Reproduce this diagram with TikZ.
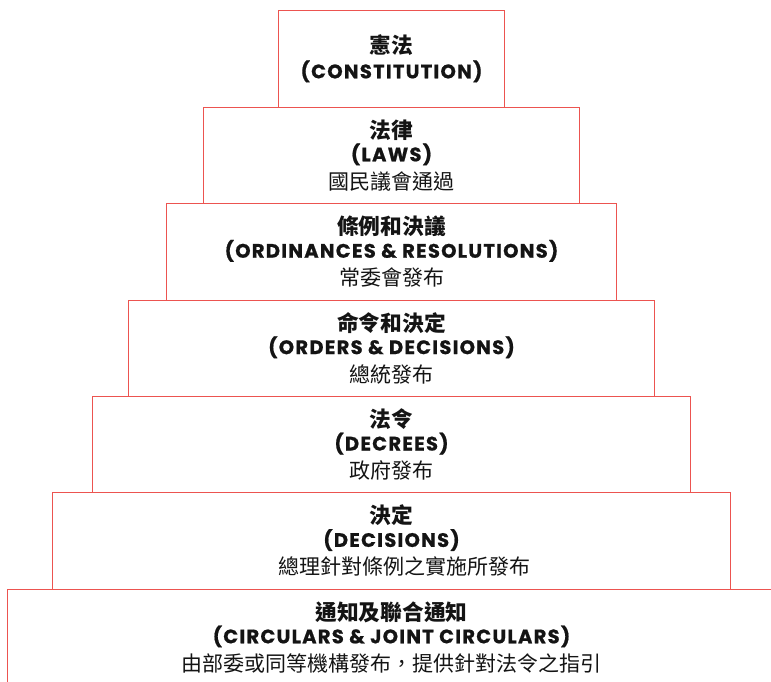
\documentclass[tikz,border=0pt]{standalone}
\usepackage{fontspec}
\setmainfont{Poppins}[LetterSpace=6.5, BoldFeatures={FakeBold=0.8}]
\newfontfamily\cjk{Noto Sans CJK TC}
\definecolor{boxred}{RGB}{236,84,80}
\definecolor{txt}{RGB}{20,20,20}
\tikzset{
  tier/.style={draw=boxred, line width=1pt, fill=white, inner sep=0pt, minimum height=96.4pt, anchor=north},
  cjktitle/.style={inner sep=0pt, anchor=base, text=txt, font=\cjk\bfseries\fontsize{21.7}{21.7}\selectfont},
  entitle/.style={inner sep=0pt, anchor=base, text=txt, font=\bfseries\fontsize{19.5}{19.5}\selectfont},
  subtitle/.style={inner sep=0pt, anchor=base, text=txt, font=\cjk\fontsize{21}{21}\selectfont}
}
\begin{document}
\begin{tikzpicture}[x=1pt,y=-1pt]
\useasboundingbox (0,0) rectangle (771,682);
\node[tier, minimum width=226.4pt] (b1) at (391.5,10.3) {};
\node[tier, minimum width=375.3pt] (b2) at (391.5,106.7) {};
\node[tier, minimum width=449.7pt] (b3) at (391.5,203.1) {};
\node[tier, minimum width=525.6pt] (b4) at (391.5,299.5) {};
\node[tier, minimum width=597.3pt] (b5) at (391.5,395.9) {};
\node[tier, minimum width=677.3pt] (b6) at (391.5,492.3) {};
\node[tier, minimum width=767.6pt] (b7) at (391.5,588.7) {};

\node[cjktitle] (t1) at ([yshift=-43.5pt]b1.north) {憲法};
\node[entitle] (e1) at ([yshift=-68pt]b1.north) {(CONSTITUTION)};

\node[cjktitle] (t2) at ([yshift=-31.6pt]b2.north) {法律};
\node[entitle] (e2) at ([yshift=-54.6pt]b2.north) {(LAWS)};
\node[subtitle] (s2) at ([yshift=-82.5pt]b2.north) {國民議會通過};

\node[cjktitle] (t3) at ([yshift=-31.6pt]b3.north) {條例和決議};
\node[entitle] (e3) at ([yshift=-54.6pt]b3.north) {(ORDINANCES \& RESOLUTIONS)};
\node[subtitle] (s3) at ([yshift=-82.5pt]b3.north) {常委會發布};

\node[cjktitle] (t4) at ([yshift=-31.6pt]b4.north) {命令和決定};
\node[entitle] (e4) at ([yshift=-54.6pt]b4.north) {(ORDERS \& DECISIONS)};
\node[subtitle] (s4) at ([yshift=-82.5pt]b4.north) {總統發布};

\node[cjktitle] (t5) at ([yshift=-31.6pt]b5.north) {法令};
\node[entitle] (e5) at ([yshift=-54.6pt]b5.north) {(DECREES)};
\node[subtitle] (s5) at ([yshift=-82.5pt]b5.north) {政府發布};

\node[cjktitle] (t6) at ([yshift=-31.6pt]b6.north) {決定};
\node[entitle] (e6) at ([yshift=-54.6pt]b6.north) {(DECISIONS)};
\node[subtitle] (s6) at ([xshift=13pt,yshift=-82.5pt]b6.north) {總理針對條例之實施所發布};

\node[cjktitle] (t7) at ([yshift=-31.6pt]b7.north) {通知及聯合通知};
\node[entitle] (e7) at ([yshift=-54.6pt]b7.north) {(CIRCULARS \& JOINT CIRCULARS)};
\node[subtitle] (s7) at ([yshift=-82.5pt]b7.north) {由部委或同等機構發布，提供針對法令之指引};
\end{tikzpicture}
\end{document}
